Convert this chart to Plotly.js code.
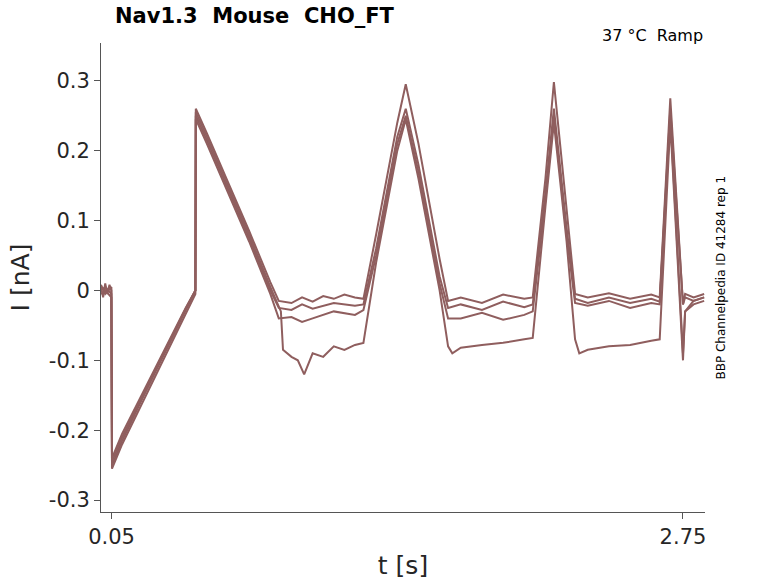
<!DOCTYPE html>
<html>
<head>
<meta charset="utf-8">
<script src="https://cdn.plot.ly/plotly-3.0.1.min.js"></script>
<style>body{margin:0;background:#fff}#plot{width:778px;height:583px}</style>
</head>
<body>
<div id="plot"></div>
<script>
// times (s) and currents (nA), one array pair per recording
const tUpper = [0, 0.01, 0.02, 0.03, 0.04, 0.049, 0.052, 0.1, 0.2, 0.3, 0.4, 0.44, 0.446, 0.448, 0.5, 0.6, 0.7, 0.8, 0.84, 0.9, 0.95, 1.0, 1.05, 1.1, 1.15, 1.2, 1.24, 1.3, 1.4, 1.44, 1.5, 1.6, 1.64, 1.7, 1.8, 1.9, 2.0, 2.04, 2.1, 2.14, 2.2, 2.24, 2.3, 2.4, 2.5, 2.6, 2.64, 2.69, 2.75, 2.76, 2.8, 2.85];
const iUpper = [0.005, -0.01, 0.01, -0.005, 0.008, 0.0, -0.25, -0.215, -0.152, -0.09, -0.028, -0.005, 0.0, 0.26, 0.225, 0.155, 0.085, 0.012, -0.015, -0.018, -0.01, -0.016, -0.008, -0.012, -0.006, -0.01, -0.012, 0.08, 0.24, 0.295, 0.21, 0.045, -0.015, -0.01, -0.018, -0.006, -0.012, -0.01, 0.16, 0.298, 0.11, -0.005, -0.01, -0.004, -0.012, -0.006, -0.01, 0.275, -0.02, -0.005, -0.01, -0.005];

const tMid = [0, 0.02, 0.049, 0.052, 0.1, 0.2, 0.3, 0.4, 0.446, 0.448, 0.5, 0.6, 0.7, 0.8, 0.84, 0.9, 0.95, 1.0, 1.1, 1.2, 1.24, 1.3, 1.4, 1.44, 1.5, 1.6, 1.64, 1.7, 1.8, 1.9, 2.0, 2.04, 2.1, 2.14, 2.2, 2.24, 2.3, 2.4, 2.5, 2.6, 2.64, 2.69, 2.75, 2.76, 2.8, 2.85];
const iMid = [-0.005, 0.0, -0.01, -0.24, -0.205, -0.145, -0.085, -0.025, 0.0, 0.25, 0.215, 0.145, 0.075, 0.0, -0.025, -0.028, -0.02, -0.026, -0.018, -0.022, -0.02, 0.06, 0.22, 0.26, 0.18, 0.02, -0.025, -0.02, -0.028, -0.016, -0.024, -0.02, 0.14, 0.26, 0.09, -0.012, -0.018, -0.01, -0.018, -0.012, -0.016, 0.26, -0.02, -0.01, -0.015, -0.01];

const tDip = [0, 0.02, 0.049, 0.052, 0.1, 0.2, 0.3, 0.4, 0.446, 0.448, 0.5, 0.6, 0.7, 0.8, 0.84, 0.9, 0.95, 1.0, 1.1, 1.2, 1.24, 1.3, 1.4, 1.44, 1.5, 1.6, 1.64, 1.7, 1.8, 1.9, 2.0, 2.04, 2.1, 2.14, 2.2, 2.24, 2.3, 2.4, 2.5, 2.6, 2.64, 2.69, 2.75, 2.76, 2.8, 2.85];
const iDip = [0.0, 0.005, -0.005, -0.255, -0.22, -0.158, -0.095, -0.032, -0.005, 0.245, 0.21, 0.14, 0.07, -0.005, -0.04, -0.038, -0.045, -0.04, -0.03, -0.035, -0.028, 0.05, 0.21, 0.25, 0.17, 0.01, -0.04, -0.04, -0.032, -0.042, -0.035, -0.03, 0.13, 0.25, 0.08, -0.018, -0.022, -0.015, -0.025, -0.018, -0.02, 0.25, -0.09, -0.03, -0.02, -0.015];

const tLow = [0, 0.02, 0.049, 0.052, 0.1, 0.2, 0.3, 0.4, 0.446, 0.448, 0.5, 0.6, 0.7, 0.8, 0.85, 0.86, 0.9, 0.93, 0.96, 1.0, 1.05, 1.1, 1.15, 1.2, 1.24, 1.3, 1.4, 1.44, 1.5, 1.6, 1.64, 1.66, 1.7, 1.8, 1.9, 2.0, 2.04, 2.1, 2.14, 2.2, 2.24, 2.26, 2.3, 2.4, 2.5, 2.6, 2.64, 2.69, 2.75, 2.76, 2.8, 2.85];
const iLow = [0.008, -0.005, 0.005, -0.245, -0.21, -0.15, -0.088, -0.026, 0.0, 0.255, 0.22, 0.15, 0.08, 0.005, -0.03, -0.085, -0.095, -0.1, -0.12, -0.09, -0.095, -0.08, -0.085, -0.078, -0.075, 0.04, 0.2, 0.245, 0.16, 0.0, -0.08, -0.09, -0.082, -0.078, -0.075, -0.07, -0.068, 0.12, 0.24, 0.07, -0.07, -0.09, -0.085, -0.08, -0.078, -0.072, -0.07, 0.24, -0.1, -0.03, -0.015, -0.01];

const xTicks = [0.05, 2.75];
const yTicks = [-0.3, -0.2, -0.1, 0, 0.1, 0.2, 0.3];

const lineColor = 'rgb(143,94,94)';
const traces = [[tUpper, iUpper], [tMid, iMid], [tDip, iDip], [tLow, iLow]].map(p => ({
  x: p[0], y: p[1], type: 'scatter', mode: 'lines',
  line: { color: lineColor, width: 2 }, hoverinfo: 'skip'
}));

const axisFont = { family: 'DejaVu Sans, sans-serif', size: 21, color: '#262626' };
const layout = {
  width: 778, height: 583,
  margin: { l: 101, r: 73, t: 43, b: 71 },
  paper_bgcolor: '#fff', plot_bgcolor: '#fff',
  showlegend: false,
  title: { text: '<b>Nav1.3  Mouse  CHO_FT</b>', x: 115 / 778, xanchor: 'left', y: 0.985, yanchor: 'top',
    font: { family: 'DejaVu Sans, sans-serif', size: 21, color: '#000' } },
  xaxis: {
    range: [0.0, 2.854], tickvals: xTicks, ticktext: ['0.05', '2.75'],
    showgrid: false, zeroline: false, showline: true, linecolor: '#555', linewidth: 1,
    ticks: 'outside', ticklen: 6, tickcolor: '#555', tickfont: axisFont,
    title: { text: 't [s]', font: { family: 'DejaVu Sans, sans-serif', size: 25, color: '#262626' }, standoff: 8 }
  },
  yaxis: {
    range: [-0.317, 0.354], tickvals: yTicks, ticktext: ['-0.3', '-0.2', '-0.1', '0', '0.1', '0.2', '0.3'],
    showgrid: false, zeroline: false, showline: true, linecolor: '#555', linewidth: 1,
    ticks: 'outside', ticklen: 6, tickcolor: '#555', tickfont: axisFont,
    title: { text: 'I [nA]', font: { family: 'DejaVu Sans, sans-serif', size: 25, color: '#262626' }, standoff: 12 }
  },
  annotations: [
    { text: '37 °C  Ramp', xref: 'paper', yref: 'paper', x: 1, y: 1.04, xanchor: 'right', yanchor: 'top',
      showarrow: false, font: { family: 'DejaVu Sans, sans-serif', size: 16, color: '#000' } },
    { text: 'BBP Channelpedia ID 41284 rep 1', xref: 'paper', yref: 'paper', x: 1.01, y: 0.5, xanchor: 'left', yanchor: 'middle',
      textangle: -90, showarrow: false, font: { family: 'DejaVu Sans, sans-serif', size: 12, color: '#000' } }
  ]
};

Plotly.newPlot('plot', traces, layout, { staticPlot: true });
</script>
</body>
</html>
